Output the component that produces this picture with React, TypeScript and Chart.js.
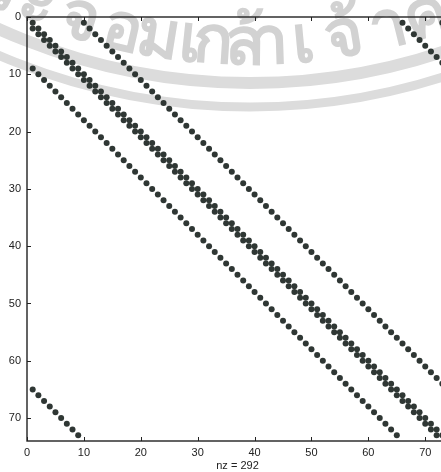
import React, { useEffect, useRef } from 'react';
import { Chart, registerables } from 'chart.js';

Chart.register(...registerables);

// ---- data (sparsity pattern of a 73 x 73 matrix) ----
const matrixSize = 73;
// each stored diagonal: column offset from the row, first row, last row
const diagOffsets = [0, -1, 9, -64, -8, 65, 72];
const diagFirstRows = [1, 2, 1, 65, 9, 1, 1];
const diagLastRows = [73, 73, 64, 73, 73, 8, 1];
const xTickValues = [0, 10, 20, 30, 40, 50, 60, 70];
const yTickValues = [0, 10, 20, 30, 40, 50, 60, 70];
const xAxisMax = matrixSize + 1;
const yAxisMax = matrixSize + 1;
const xTitle = 'nz = 292';

// watermark (scanned-page background)
const watermarkClusters = ['ร', 'ะ', 'จ', 'อ', 'ม', 'เ', 'ก', 'ล้', 'า', 'เ', 'จ้', 'า', 'ค'];
const watermarkX = [-5, 30, 75, 118, 156, 188, 212, 244, 270, 305, 347, 393, 432];

const CANVAS_W = 470;
const CANVAS_H = 472;
const AREA_LEFT = 27;
const AREA_TOP = 17;
const AREA_RIGHT = 448;
const AREA_BOTTOM = 441;

const FONT = "'Liberation Sans', Arial, Helvetica, sans-serif";

function buildPoints() {
  const pts: { x: number; y: number }[] = [];
  for (let d = 0; d < diagOffsets.length; d++) {
    for (let r = diagFirstRows[d]; r <= diagLastRows[d]; r++) {
      pts.push({ x: r + diagOffsets[d], y: r });
    }
  }
  return pts;
}

const watermarkPlugin = {
  id: 'watermark',
  beforeDraw(chart: any) {
    const ctx = chart.ctx as CanvasRenderingContext2D;
    ctx.save();
    ctx.fillStyle = '#ffffff';
    ctx.fillRect(0, 0, chart.width, chart.height);
    const cx = 250;
    const cy = -529;
    ctx.strokeStyle = '#dcdcdc';
    ctx.lineWidth = 12;
    ctx.beginPath();
    ctx.arc(cx, cy, 612, 0, Math.PI);
    ctx.stroke();
    ctx.lineWidth = 9;
    ctx.beginPath();
    ctx.arc(cx, cy, 636, 0, Math.PI);
    ctx.stroke();
    // text along the arc
    const rt = 593;
    ctx.fillStyle = '#d2d2d2';
    ctx.font = `bold 66px 'Noto Sans', 'DejaVu Sans', sans-serif`;
    ctx.textAlign = 'center';
    ctx.textBaseline = 'alphabetic';
    for (let i = 0; i < watermarkClusters.length; i++) {
      const th = Math.asin((watermarkX[i] - cx) / rt);
      const px = cx + rt * Math.sin(th);
      const py = cy + rt * Math.cos(th);
      ctx.save();
      ctx.translate(px, py);
      ctx.rotate(-th);
      ctx.fillText(watermarkClusters[i], 0, 0);
      ctx.restore();
    }
    ctx.restore();
  },
};

const framePlugin = {
  id: 'frame',
  afterDraw(chart: any) {
    const ctx = chart.ctx as CanvasRenderingContext2D;
    const { left, top, right, bottom } = chart.chartArea;
    const xs = chart.scales.x;
    const ys = chart.scales.y;
    ctx.save();
    ctx.strokeStyle = '#222222';
    ctx.lineWidth = 1.4;
    ctx.strokeRect(left, top, right - left, bottom - top);
    ctx.lineWidth = 1;
    const tl = 4;
    ctx.beginPath();
    for (const v of xTickValues) {
      const p = Math.round(xs.getPixelForValue(v)) + 0.5;
      ctx.moveTo(p, bottom);
      ctx.lineTo(p, bottom - tl);
      ctx.moveTo(p, top);
      ctx.lineTo(p, top + tl);
    }
    for (const v of yTickValues) {
      const p = Math.round(ys.getPixelForValue(v)) + 0.5;
      ctx.moveTo(left, p);
      ctx.lineTo(left + tl, p);
      ctx.moveTo(right, p);
      ctx.lineTo(right - tl, p);
    }
    ctx.stroke();
    ctx.restore();
  },
};

export default function App() {
  const canvasRef = useRef<HTMLCanvasElement | null>(null);

  useEffect(() => {
    document.body.style.margin = '0';
    const canvas = canvasRef.current!;
    const chart = new Chart(canvas, {
      type: 'scatter',
      data: {
        datasets: [
          {
            data: buildPoints(),
            pointRadius: 3,
            pointHoverRadius: 3,
            pointBorderWidth: 0,
            backgroundColor: '#2f3734',
            borderColor: '#2f3734',
          },
        ],
      },
      options: {
        animation: false,
        responsive: false,
        maintainAspectRatio: false,
        events: [],
        layout: {
          padding: { left: 0, top: AREA_TOP, right: CANVAS_W - AREA_RIGHT, bottom: 0 },
        },
        plugins: {
          legend: { display: false },
          tooltip: { enabled: false },
        },
        scales: {
          x: {
            type: 'linear',
            position: 'bottom',
            min: 0,
            max: xAxisMax,
            afterBuildTicks: (s: any) => {
              s.ticks = xTickValues.map((v) => ({ value: v }));
            },
            afterFit: (s: any) => {
              s.height = CANVAS_H - AREA_BOTTOM;
            },
            grid: { display: false, drawTicks: false },
            border: { display: false },
            ticks: {
              padding: 5,
              autoSkip: false,
              maxRotation: 0,
              color: '#222',
              font: { family: FONT, size: 11 },
            },
            title: {
              display: true,
              text: xTitle,
              padding: { top: 0, bottom: -1 },
              color: '#222',
              font: { family: FONT, size: 11 },
            },
          },
          y: {
            type: 'linear',
            reverse: true,
            min: 0,
            max: yAxisMax,
            afterBuildTicks: (s: any) => {
              s.ticks = yTickValues.map((v) => ({ value: v }));
            },
            afterFit: (s: any) => {
              s.width = AREA_LEFT;
            },
            grid: { display: false, drawTicks: false },
            border: { display: false },
            ticks: {
              padding: 6,
              autoSkip: false,
              color: '#222',
              font: { family: FONT, size: 11 },
            },
          },
        },
      },
      plugins: [watermarkPlugin, framePlugin],
    } as any);
    return () => chart.destroy();
  }, []);

  return (
    <div
      style={{
        position: 'fixed',
        left: 0,
        top: 0,
        width: 441,
        height: 472,
        overflow: 'hidden',
        background: '#fff',
      }}
    >
      <canvas ref={canvasRef} width={CANVAS_W} height={CANVAS_H} style={{ display: 'block' }} />
    </div>
  );
}
